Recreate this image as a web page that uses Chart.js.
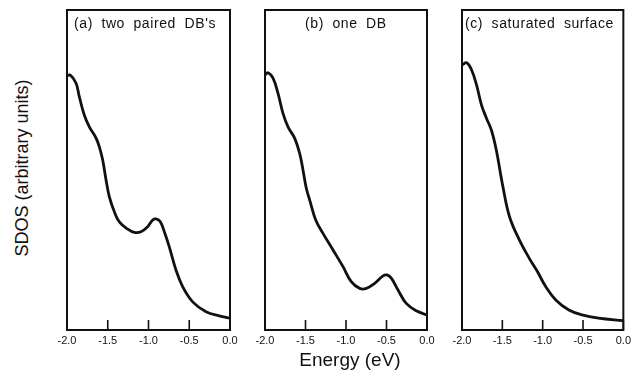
<!DOCTYPE html>
<html lang="en">
<head>
<meta charset="UTF-8">
<title>SDOS panels</title>
<script src="https://cdn.jsdelivr.net/npm/chart.js"></script>
<style>
    body {
        margin: 0;
        background: #fff;
        font-family: 'Liberation Sans', Arial, sans-serif;
        color: #111;
        overflow: hidden;
    }

    .figure {
        position: relative;
        width: 633px;
        height: 381px;
    }

    .panel {
        position: absolute;
        top: 0;
        height: 360px;
    }

    .title {
        position: absolute;
        font-size: 14px;
        line-height: 16px;
        letter-spacing: 0.6px;
        word-spacing: 4px;
        white-space: nowrap;
    }

    .ylabel {
        position: absolute;
        left: 22px;
        top: 168px;
        font-size: 18px;
        white-space: nowrap;
        transform: translate(-50%, -50%) rotate(-90deg);
    }

    .xlabel {
        position: absolute;
        left: 350px;
        top: 360px;
        font-size: 19px;
        white-space: nowrap;
        transform: translate(-50%, -50%);
    }
</style>
</head>
<body>
<div class="figure">
    <div class="panel" style="left:47px; width:203px;"><canvas id="chartA"></canvas></div>
    <div class="panel" style="left:245px; width:202px;"><canvas id="chartB"></canvas></div>
    <div class="panel" style="left:442px; width:193px;"><canvas id="chartC"></canvas></div>

    <div class="title" style="left:74px; top:15px;">(a) two paired DB's</div>
    <div class="title" style="left:305px; top:15px;">(b) one DB</div>
    <div class="title" style="left:465px; top:15px;">(c) saturated surface</div>

    <div class="ylabel">SDOS (arbitrary units)</div>
    <div class="xlabel">Energy (eV)</div>
</div>

<script>
    // values (energy in eV, SDOS in arbitrary units 0-100)
    const energyA = [-2.0, -1.963, -1.89, -1.849, -1.788, -1.726, -1.644, -1.604, -1.562, -1.521, -1.481,
        -1.42, -1.358, -1.255, -1.174, -1.092, -1.01, -0.948, -0.908, -0.855, -0.806, -0.745, -0.663,
        -0.58, -0.458, -0.294, -0.131, 0.0];
    const sdosA = [79.4, 79.7, 77.2, 72.9, 67.2, 63.5, 60.0, 57.3, 53.1, 46.9, 41.7,
        37.0, 33.8, 31.5, 30.5, 30.7, 32.3, 34.4, 34.7, 33.8, 30.7, 26.0, 18.75,
        13.5, 8.8, 5.7, 4.4, 3.7];

    const energyB = [-2.0, -1.963, -1.901, -1.84, -1.778, -1.716, -1.633, -1.572, -1.531, -1.49, -1.448,
        -1.374, -1.284, -1.16, -1.037, -0.935, -0.831, -0.749, -0.646, -0.543, -0.494, -0.441, -0.358,
        -0.256, -0.132, 0.0];
    const sdosB = [79.7, 80.4, 78.7, 74.0, 67.7, 63.5, 59.9, 55.2, 50.0, 44.3, 40.6,
        34.4, 30.2, 25.0, 19.8, 15.1, 13.0, 13.0, 14.6, 16.9, 17.2, 16.2, 12.5,
        8.3, 6.0, 4.7];

    const energyC = [-2.0, -1.942, -1.881, -1.82, -1.758, -1.697, -1.636, -1.575, -1.493, -1.411, -1.288,
        -1.166, -1.064, -0.961, -0.838, -0.675, -0.512, -0.307, 0.0];
    const sdosC = [82.8, 83.5, 81.25, 76.6, 70.3, 66.2, 62.5, 56.25, 44.8, 35.4, 28.1,
        22.4, 18.2, 13.5, 9.4, 6.25, 4.7, 3.7, 2.9];

    const tickStep = 0.5;

    // box frame and inward tick marks
    const framePlugin = {
        id: 'frame',
        afterDatasetsDraw(chart) {
            const { ctx, chartArea: a, scales: { x } } = chart;
            ctx.save();
            ctx.strokeStyle = '#111';
            ctx.lineWidth = 2;
            ctx.strokeRect(a.left, a.top, a.right - a.left, a.bottom - a.top);
            ctx.lineWidth = 1.6;
            x.ticks.forEach(t => {
                const px = x.getPixelForValue(t.value);
                ctx.beginPath();
                ctx.moveTo(px, a.bottom);
                ctx.lineTo(px, a.bottom - 10);
                ctx.stroke();
            });
            ctx.restore();
        }
    };

    function makePanel(id, energy, sdos, padRight) {
        const points = energy.map((e, i) => ({ x: e, y: sdos[i] }));
        new Chart(document.getElementById(id), {
            type: 'line',
            data: {
                datasets: [{
                    data: points,
                    borderColor: '#111',
                    borderWidth: 2.8,
                    pointRadius: 0,
                    tension: 0.4,
                    fill: false
                }]
            },
            options: {
                responsive: true,
                maintainAspectRatio: false,
                animation: false,
                layout: { padding: { left: 20, right: padRight, top: 10, bottom: 0 } },
                plugins: { legend: { display: false }, tooltip: { enabled: false } },
                scales: {
                    x: {
                        type: 'linear',
                        min: -2,
                        max: 0,
                        border: { display: false },
                        grid: { display: false, drawTicks: false },
                        ticks: {
                            stepSize: tickStep,
                            padding: 4,
                            color: '#111',
                            font: { family: "'Liberation Sans', Arial, sans-serif", size: 11 },
                            maxRotation: 0,
                            callback: v => v.toFixed(1)
                        },
                        afterFit: scale => { scale.height = 30; }
                    },
                    y: {
                        display: false,
                        min: 0,
                        max: 100
                    }
                }
            },
            plugins: [framePlugin]
        });
    }

    makePanel('chartA', energyA, sdosA, 20);
    makePanel('chartB', energyB, sdosB, 20);
    makePanel('chartC', energyC, sdosC, 10);
</script>
</body>
</html>
